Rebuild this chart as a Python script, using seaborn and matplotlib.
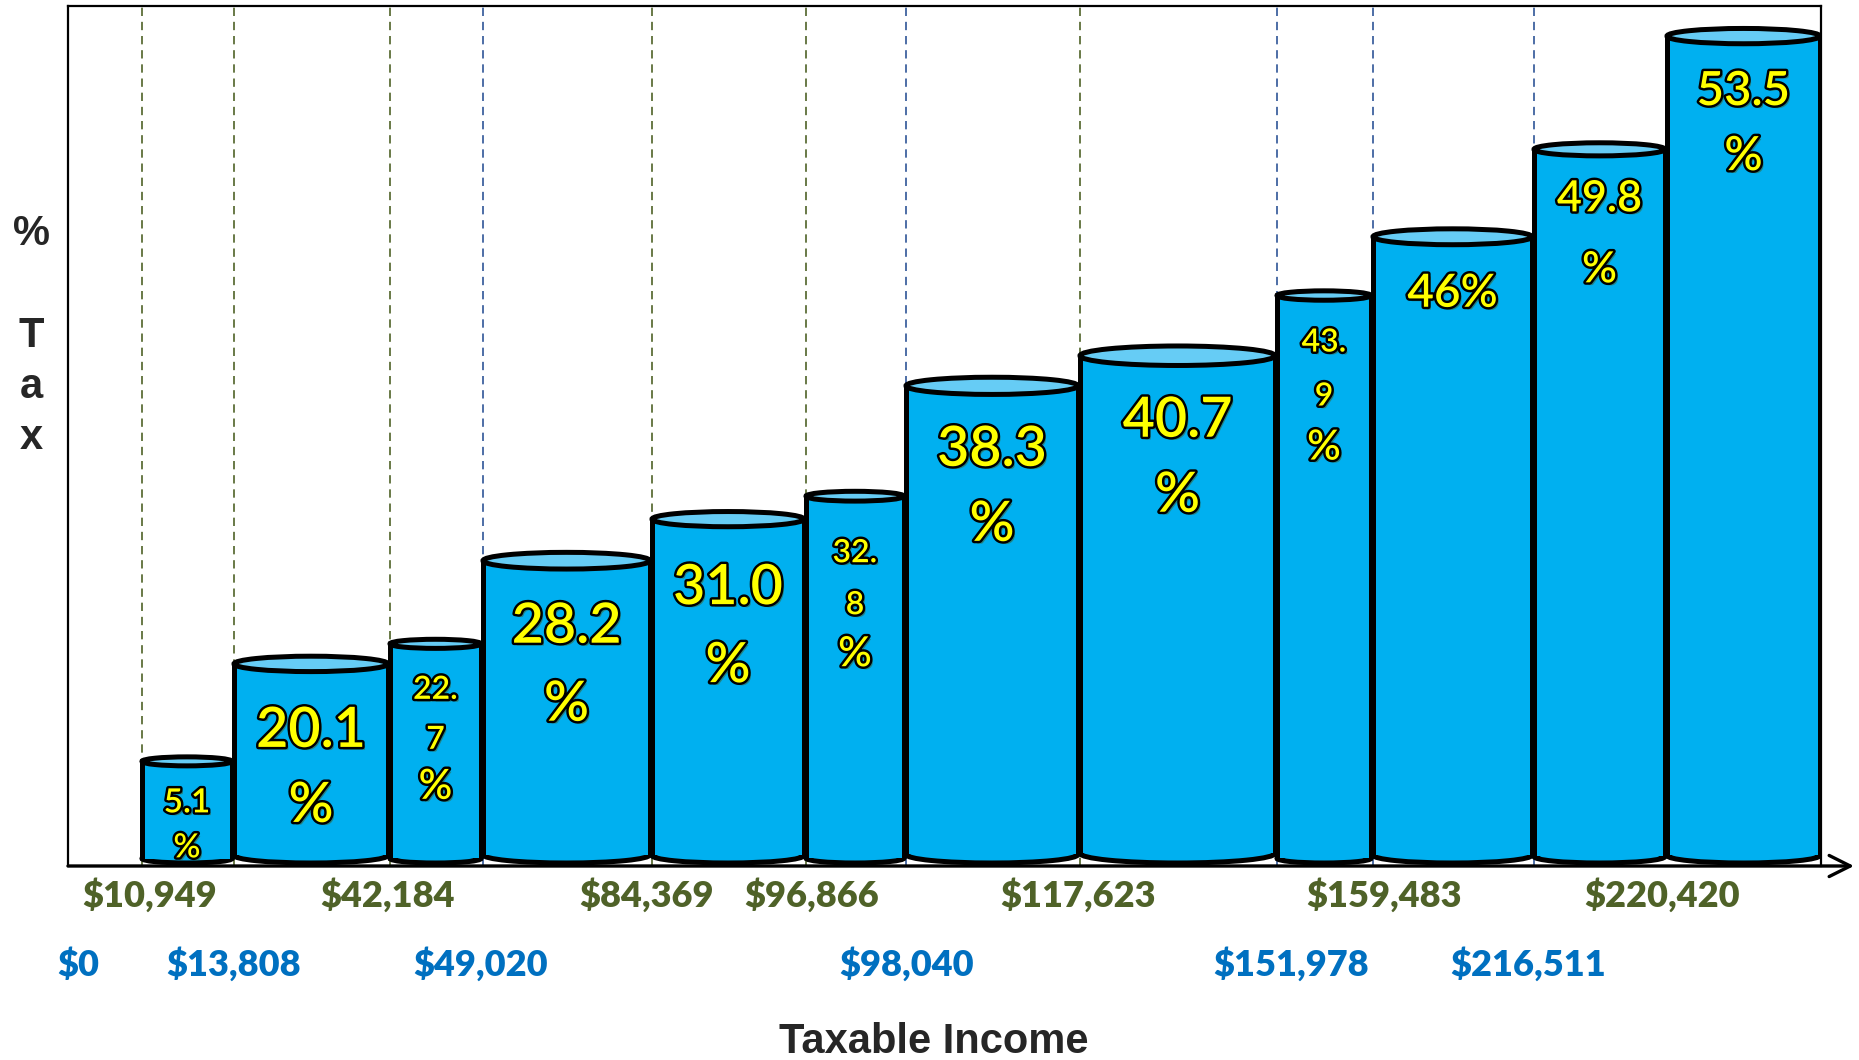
import matplotlib
matplotlib.use("Agg")
import matplotlib.pyplot as plt
import matplotlib.patheffects as pe
from matplotlib.patches import Ellipse
import numpy as np
import seaborn as sns

# ------- DATA ---------
threshold_labels = ["$0", "$10,949", "$13,808", "$42,184", "$49,020", "$84,369",
                    "$96,866", "$98,040", "$117,623", "$151,978", "$159,483",
                    "$216,511", "$220,420"]
# which label row each threshold sits in
threshold_row = ["lower", "upper", "lower", "upper", "lower", "upper",
                 "upper", "lower", "upper", "lower", "upper", "lower", "upper"]

tax_rates = [5.1, 20.1, 22.7, 28.2, 31.0, 32.8, 38.3, 40.7, 43.9, 46.0, 49.8, 53.5]
rate_text = [["5.1", "%"], ["20.1", "%"], ["22.", "7", "%"], ["28.2", "%"],
             ["31.0", "%"], ["32.", "8", "%"], ["38.3", "%"], ["40.7", "%"],
             ["43.", "9", "%"], ["46%"], ["49.8", "%"], ["53.5", "%"]]
# cylinder heights as drawn in the picture (0-60 scale, not proportional to rate)
drawn_height = [7.3, 14.1, 15.5, 21.3, 24.2, 25.8, 33.5, 35.6, 39.8, 43.9, 50.0, 57.9]

# ------- LAYOUT / STYLE ---------
W, H, DPI = 1859, 1060, 100
AX_L, AX_R, AX_T, AX_B = 68, 1821, 6, 866
x_max = AX_R - AX_L
y_max = 60
ppu = (AX_B - AX_T) / y_max  # pixels per y unit

bar_left = [74, 166, 322, 415, 584, 738, 838, 1012, 1209, 1305, 1466, 1599]
bar_right = [b - 2 for b in bar_left[1:]] + [x_max - 1]
label_dx = [0, 8, 0, -2, -2, -5, 6, 1, -2, 14, 11, -6, -5]
# (fontsize, first baseline offset below top in px, line gap in px)
text_layout = [(24, 51, 45), (40, 83, 75), (23, 55, 50), (40, 82, 78),
               (40, 85, 78), (23, 66, 52), (40, 80, 75), (40, 81, 75),
               (23, 56, 54), (33, 70, 0), (31, 62, 71), (34, 69, 65)]
dash_color = ["olive", "olive", "olive", "blue", "olive", "olive", "blue",
              "olive", "blue", "blue", "blue"]

BODY = "#00B0F0"
LID = "#66CCF5"
OLIVE = "#4F6228"
BLUE_TXT = "#0070C0"
BLUE_DASH = "#2F5597"
EDGE_LW = 3.6

sns.set_theme(style="white")
plt.rcParams['font.family'] = ['Lato', 'DejaVu Sans']

fig = plt.figure(figsize=(W / DPI, H / DPI), dpi=DPI)
ax = fig.add_axes([AX_L / W, 1 - AX_B / H, (AX_R - AX_L) / W, (AX_B - AX_T) / H])
ax.set_xlim(0, x_max)
ax.set_ylim(0, y_max)
ax.set_xticks([])
ax.set_yticks([])
for side in ["top", "left", "right"]:
    ax.spines[side].set_color("black")
    ax.spines[side].set_linewidth(1.6)
ax.spines["bottom"].set_visible(False)

# dashed guide lines at the bracket starts
for i, c in enumerate(dash_color):
    ax.vlines(bar_left[i], 0, y_max, colors=OLIVE if c == "olive" else BLUE_DASH,
              linestyles=(0, (5, 3.5)), lw=1.2, zorder=1)

# cylinders
lefts = np.array(bar_left, dtype=float)
widths = np.array(bar_right, dtype=float) - lefts
half_h_px = 0.05 * widths
bases = (3 + half_h_px) / ppu
tops = np.array(drawn_height)
ax.bar(lefts, tops - bases, width=widths, bottom=bases, align="edge",
       color=BODY, edgecolor="none", zorder=3)

effects = [pe.SimplePatchShadow(offset=(2, -2), alpha=0.45),
           pe.Stroke(linewidth=3.5, foreground="black"),
           pe.Normal()]

for i in range(len(tax_rates)):
    cx = lefts[i] + widths[i] / 2
    eh = 2 * half_h_px[i] / ppu
    ax.add_patch(Ellipse((cx, bases[i]), widths[i], eh, facecolor=BODY,
                         edgecolor="black", lw=EDGE_LW, zorder=2.9))
    ax.vlines([lefts[i], lefts[i] + widths[i]], bases[i], tops[i],
              colors="black", lw=EDGE_LW, zorder=4)
    ax.add_patch(Ellipse((cx, tops[i]), widths[i], eh, facecolor=LID,
                         edgecolor="black", lw=EDGE_LW, zorder=5))

    fs, d1, gap = text_layout[i]
    lines = rate_text[i]
    for k, line in enumerate(lines):
        y = tops[i] - (d1 + k * gap) / ppu
        size = fs
        if len(lines) == 3 and line == "%":
            size = fs * 1.3
        ax.text(cx, y, line, ha="center", va="baseline", fontsize=size,
                fontweight="semibold", color="#FFFF00", zorder=6,
                path_effects=effects)

# x axis with arrow
ax.annotate("", xy=(1854 - AX_L, 0), xytext=(0, 0), annotation_clip=False,
            arrowprops=dict(arrowstyle="->", lw=2.4, color="black",
                            mutation_scale=38, shrinkA=0, shrinkB=0))

# threshold labels
for j, lab in enumerate(threshold_labels):
    x = (10 if j == 0 else bar_left[j - 1]) + label_dx[j]
    if threshold_row[j] == "upper":
        y, col = -41 / ppu, OLIVE
    else:
        y, col = -110 / ppu, BLUE_TXT
    ax.text(x, y, lab, ha="center", va="baseline", fontsize=26,
            fontweight="heavy", color=col, clip_on=False)

# axis titles
fig.text(934 / W, 1 - 1053 / H, "Taxable Income", ha="center", va="baseline",
         fontsize=30, fontweight="bold", family=["Liberation Sans", "DejaVu Sans"])
for k, ch in enumerate("% Tax"):
    if ch == " ":
        continue
    fig.text(31 / W, 1 - (245 + k * 51) / H, ch, ha="center", va="baseline",
             fontsize=30, fontweight="bold",
             family=["Liberation Sans", "DejaVu Sans"])

fig.savefig("out.png", dpi=DPI)
